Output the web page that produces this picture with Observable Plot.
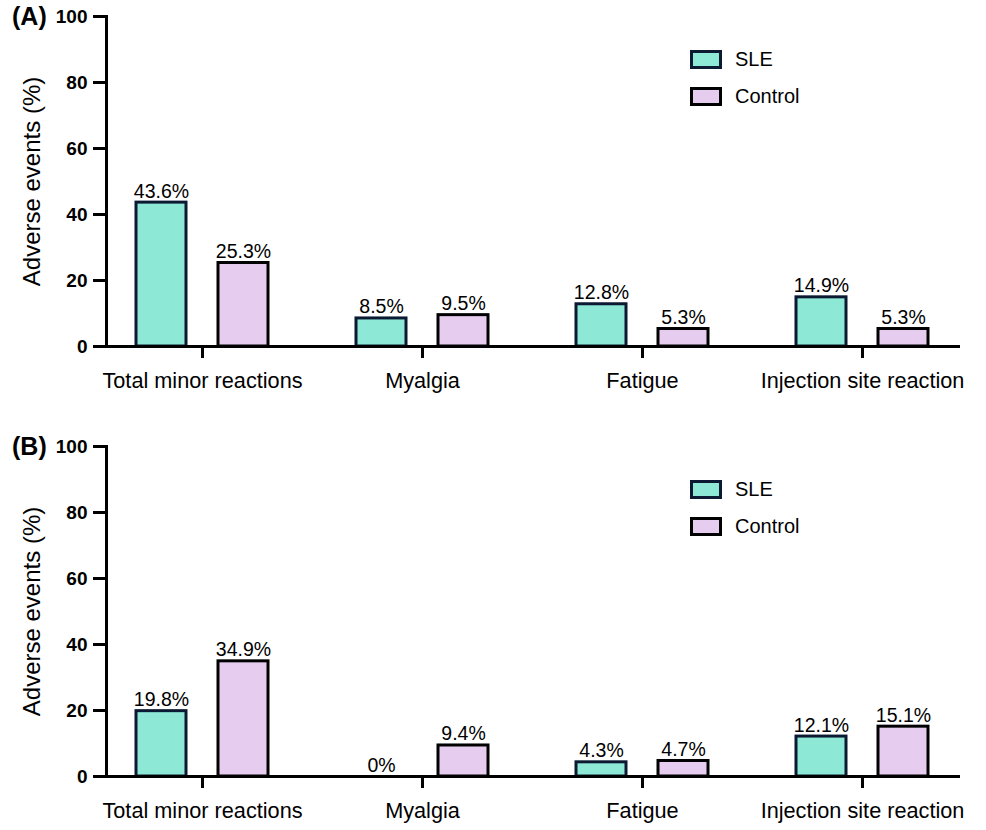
<!DOCTYPE html>
<html>
<head>
<meta charset="utf-8">
<script src="https://cdn.jsdelivr.net/npm/d3@7"></script>
<script src="https://cdn.jsdelivr.net/npm/@observablehq/plot@0.6"></script>
<style>
  body { margin: 0; background: #fff; font-family: "Liberation Sans", Arial, sans-serif; }
  #wrap { width: 986px; }
  .panel { position: relative; width: 986px; }
  .letter { position: absolute; left: 12px; top: 2px; font-weight: bold; font-size: 25px; color: #000; }
  .legend { position: absolute; left: 690px; top: 50px; font-size: 20px; color: #000; }
  .legend .row { display: flex; align-items: center; height: 19px; margin-bottom: 18px; }
  .legend .sw { width: 26px; height: 13px; border: 3px solid #000; margin-right: 13px; }
  svg { display: block; }
</style>
</head>
<body>
<div id="wrap"></div>
<script>
const categories = ["Total minor reactions", "Myalgia", "Fatigue", "Injection site reaction"];
const groups = ["SLE", "Control"];
const sleA = [43.6, 8.5, 12.8, 14.9];
const controlA = [25.3, 9.5, 5.3, 5.3];
const sleB = [19.8, 0, 4.3, 12.1];
const controlB = [34.9, 9.4, 4.7, 15.1];
const yTicks = [0, 20, 40, 60, 80, 100];
const panelLetters = ["(A)", "(B)"];
const yLabel = "Adverse events (%)";

const fills = {SLE: "#8ee8d6", Control: "#e6cdef"};
const strokes = {SLE: "#0b1a32", Control: "#000000"};

function rowsOf(sle, control) {
  const rows = [];
  categories.forEach((c, i) => {
    rows.push({category: c, group: "SLE", value: sle[i]});
    rows.push({category: c, group: "Control", value: control[i]});
  });
  return rows;
}

function panel(sle, control, letter, height, marginBottom) {
  const rows = rowsOf(sle, control);
  const sleRows = rows.filter(d => d.group === "SLE");
  const ctlRows = rows.filter(d => d.group === "Control");
  const plot = Plot.plot({
    width: 986,
    height,
    marginLeft: 106,
    marginRight: 26,
    marginTop: 16,
    marginBottom,
    style: {fontFamily: "Liberation Sans, Arial, sans-serif", color: "#000", background: "#fff"},
    x: {type: "band", domain: categories, range: [92, 972], padding: 0},
    y: {domain: [0, 100], range: [height - marginBottom, 16]},
    marks: [
      Plot.barY(sleRows, {x: "category", y: "value", fill: fills.SLE, stroke: strokes.SLE, strokeWidth: 3, insetLeft: 44, insetRight: 126}),
      Plot.barY(ctlRows, {x: "category", y: "value", fill: fills.Control, stroke: strokes.Control, strokeWidth: 3, insetLeft: 126, insetRight: 44}),
      Plot.text(sleRows, {x: "category", y: "value", text: d => d.value + "%", dx: -41, dy: -5, lineAnchor: "bottom", fontSize: 19.5, fill: "#000"}),
      Plot.text(ctlRows, {x: "category", y: "value", text: d => d.value + "%", dx: 41, dy: -5, lineAnchor: "bottom", fontSize: 19.5, fill: "#000"}),
      Plot.ruleY([0], {stroke: "#000", strokeWidth: 3, insetLeft: -13}),
      Plot.frame({anchor: "left", stroke: "#000", strokeWidth: 3}),
      Plot.axisY({ticks: yTicks, tickSize: 13, tickPadding: 6, strokeWidth: 3, stroke: "#000", strokeOpacity: 1, fontSize: 19, fontWeight: "bold",
        label: yLabel, labelAnchor: "center", labelArrow: "none", labelOffset: 84}),
      Plot.axisX({tickSize: 12, tickPadding: 14, strokeWidth: 3, stroke: "#000", strokeOpacity: 1, fontSize: 21.7, label: null})
    ]
  });
  plot.querySelectorAll("text").forEach(t => {
    if (t.textContent === yLabel) { t.setAttribute("font-size", "24"); t.setAttribute("font-weight", "normal"); }
  });
  const div = document.createElement("div");
  div.className = "panel";
  div.appendChild(plot);
  const l = document.createElement("div");
  l.className = "letter";
  l.textContent = letter;
  div.appendChild(l);
  const lg = document.createElement("div");
  lg.className = "legend";
  groups.forEach(g => {
    const r = document.createElement("div");
    r.className = "row";
    const sw = document.createElement("div");
    sw.className = "sw";
    sw.style.background = fills[g];
    sw.style.borderColor = strokes[g];
    const tx = document.createElement("span");
    tx.textContent = g;
    r.appendChild(sw); r.appendChild(tx);
    lg.appendChild(r);
  });
  div.appendChild(lg);
  return div;
}

const wrap = document.getElementById("wrap");
wrap.appendChild(panel(sleA, controlA, panelLetters[0], 430, 84));
wrap.appendChild(panel(sleB, controlB, panelLetters[1], 400, 54));
</script>
</body>
</html>
